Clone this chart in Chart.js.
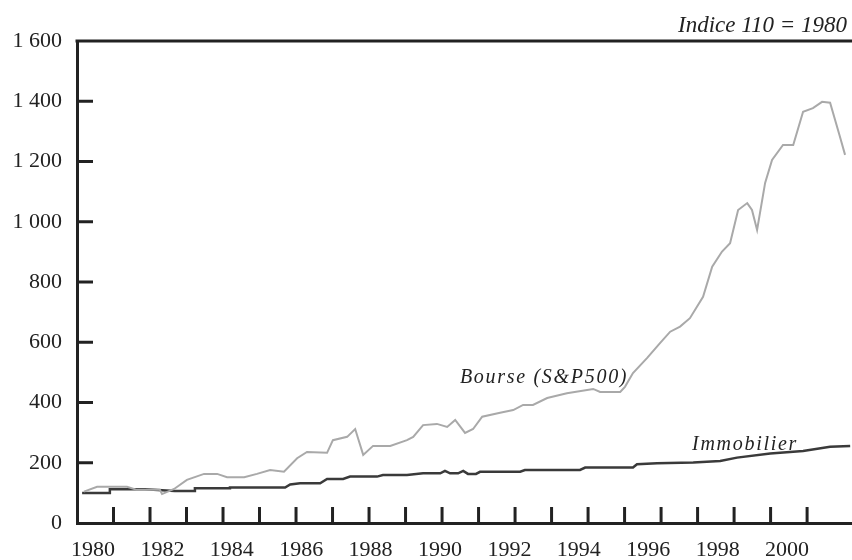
<!DOCTYPE html>
<html>
<head>
<meta charset="utf-8">
<script src="https://cdn.jsdelivr.net/npm/chart.js@4"></script>
<style>
  body { margin: 0; background: #fff; }
  canvas { display: block; }
</style>
</head>
<body>
<canvas id="chart" width="852" height="560"></canvas>
<script>
// Bourse (S&P500)
const bourseYears = [1980.19, 1980.55, 1981.37, 1981.64, 1982.27, 1982.33, 1982.66, 1983.01, 1983.48, 1983.84,
    1984.11, 1984.58, 1984.93, 1985.29, 1985.67, 1986.03, 1986.30, 1986.85, 1987.01, 1987.40,
    1987.62, 1987.84, 1988.11, 1988.58, 1989.04, 1989.21, 1989.48, 1989.86, 1990.14, 1990.36,
    1990.63, 1990.85, 1991.10, 1991.59, 1991.95, 1992.22, 1992.49, 1992.88, 1993.42, 1994.14,
    1994.33, 1994.88, 1995.01, 1995.23, 1995.62, 1995.97, 1996.25, 1996.52, 1996.79, 1997.15,
    1997.40, 1997.67, 1997.89, 1998.11, 1998.36, 1998.49, 1998.63, 1998.85, 1999.04, 1999.34,
    1999.62, 1999.89, 2000.16, 2000.41, 2000.63, 2000.90, 2001.04];
const bourseValues = [104, 120, 120, 110, 110, 96, 113, 143, 163, 163,
    152, 152, 163, 176, 170, 215, 236, 233, 275, 286,
    312, 226, 256, 256, 275, 286, 325, 329, 319, 342,
    299, 312, 353, 366, 375, 392, 392, 415, 431, 445,
    435, 435, 452, 498, 548, 597, 635, 652, 680, 751,
    851, 901, 929, 1039, 1062, 1039, 973, 1129, 1205, 1255,
    1255, 1365, 1377, 1398, 1395, 1282, 1222];

// Immobilier
const immoYears = [1980.14, 1980.90, 1980.90, 1981.86, 1982.68, 1983.23, 1983.23, 1984.19, 1984.19, 1985.70,
    1985.84, 1986.11, 1986.66, 1986.85, 1987.29, 1987.48, 1988.22, 1988.38, 1989.04, 1989.48,
    1989.95, 1990.08, 1990.22, 1990.44, 1990.58, 1990.71, 1990.93, 1991.04, 1992.14, 1992.27,
    1993.78, 1993.92, 1995.23, 1995.34, 1995.89, 1996.88, 1997.62, 1998.08, 1998.99, 1999.89,
    2000.63, 2001.18];
const immoValues = [100, 100, 112, 112, 106, 106, 115, 115, 118, 118,
    128, 132, 132, 146, 146, 154, 154, 159, 159, 165,
    165, 173, 165, 165, 173, 163, 163, 170, 170, 176,
    176, 184, 184, 195, 198, 201, 206, 217, 231, 239,
    253, 256];

const yTicks = [0, 200, 400, 600, 800, 1000, 1200, 1400, 1600];
const yMarks = [200, 400, 600, 800, 1000, 1200, 1400];
const tickYears = [1981, 1982, 1983, 1984, 1985, 1986, 1987, 1988, 1989, 1990,
    1991, 1992, 1993, 1994, 1995, 1996, 1997, 1998, 1999, 2000];
const yearLabels = [1980, 1982, 1984, 1986, 1988, 1990, 1992, 1994, 1996, 1998, 2000];

const titleText = 'Indice 110 = 1980';
const seriesNotes = [
    { text: 'Bourse (S&P500)', year: 1990.49, value: 465 },
    { text: 'Immobilier', year: 1996.85, value: 242 }
];

const ink = '#222';
const serif = "'Liberation Serif', 'Times New Roman', serif";

function pairs(xs, ys) {
    return xs.map((x, i) => ({ x: x, y: ys[i] }));
}

// frame top line, inner tick marks, the title and the italic series notes
const frameAndNotes = {
    id: 'frameAndNotes',
    afterDraw(chart) {
        const ctx = chart.ctx;
        const area = chart.chartArea;
        const x = chart.scales.x;
        const y = chart.scales.y;
        ctx.save();
        ctx.strokeStyle = ink;
        ctx.lineWidth = 3;
        ctx.beginPath();
        ctx.moveTo(area.left - 1.5, area.top);
        ctx.lineTo(area.right, area.top);
        ctx.stroke();

        tickYears.forEach(yr => {
            const px = x.getPixelForValue(yr);
            ctx.beginPath();
            ctx.moveTo(px, area.bottom);
            ctx.lineTo(px, area.bottom - 16);
            ctx.stroke();
        });
        yMarks.forEach(v => {
            const py = y.getPixelForValue(v);
            ctx.beginPath();
            ctx.moveTo(area.left, py);
            ctx.lineTo(area.left + 16, py);
            ctx.stroke();
        });

        ctx.fillStyle = ink;
        ctx.textBaseline = 'alphabetic';

        // title, top right above the frame
        ctx.font = 'italic 23px ' + serif;
        ctx.textAlign = 'right';
        ctx.fillText(titleText, area.right - 5, area.top - 9);

        ctx.font = 'italic 20px ' + serif;
        ctx.letterSpacing = '1.7px';
        ctx.textAlign = 'left';
        seriesNotes.forEach(n => {
            ctx.fillText(n.text, x.getPixelForValue(n.year), y.getPixelForValue(n.value));
        });
        ctx.restore();
    }
};

new Chart(document.getElementById('chart'), {
    type: 'line',
    data: {
        datasets: [{
            label: 'Bourse (S&P500)',
            data: pairs(bourseYears, bourseValues),
            borderColor: '#a9a9a9',
            borderWidth: 2,
            pointRadius: 0,
            tension: 0
        }, {
            label: 'Immobilier',
            data: pairs(immoYears, immoValues),
            borderColor: '#3a3a3a',
            borderWidth: 2.5,
            pointRadius: 0,
            tension: 0
        }]
    },
    options: {
        responsive: false,
        animation: false,
        layout: { padding: { top: 41, left: 0, right: 0, bottom: 0 } },
        plugins: {
            legend: { display: false },
            tooltip: { enabled: false },
            title: { display: false }
        },
        scales: {
            x: {
                type: 'linear',
                position: 'bottom',
                weight: 0,
                min: 1980,
                max: 2001.23,
                afterBuildTicks: s => { s.ticks = tickYears.map(v => ({ value: v })); },
                afterFit: s => { s.height = 0; },
                grid: { display: false },
                border: { display: true, color: ink, width: 3 },
                ticks: { display: false }
            },
            xl: {
                type: 'linear',
                position: 'bottom',
                weight: 1,
                min: 1979.54,
                max: 2001.87,
                afterBuildTicks: s => { s.ticks = yearLabels.map(v => ({ value: v })); },
                afterFit: s => { s.height = 37; },
                grid: { display: false, drawTicks: false },
                border: { display: false },
                ticks: {
                    color: ink,
                    padding: 14,
                    maxRotation: 0,
                    autoSkip: false,
                    font: { family: serif, size: 22 },
                    callback: v => String(v)
                }
            },
            y: {
                min: 0,
                max: 1600,
                afterBuildTicks: s => { s.ticks = yTicks.map(v => ({ value: v })); },
                afterFit: s => { s.width = 77; },
                grid: { display: false, drawTicks: false },
                border: { display: true, color: ink, width: 3 },
                ticks: {
                    color: ink,
                    padding: 15,
                    font: { family: serif, size: 22 },
                    callback: v => String(v).replace(/\B(?=(\d{3})+(?!\d))/g, ' ')
                }
            }
        }
    },
    plugins: [frameAndNotes]
});
</script>
</body>
</html>
